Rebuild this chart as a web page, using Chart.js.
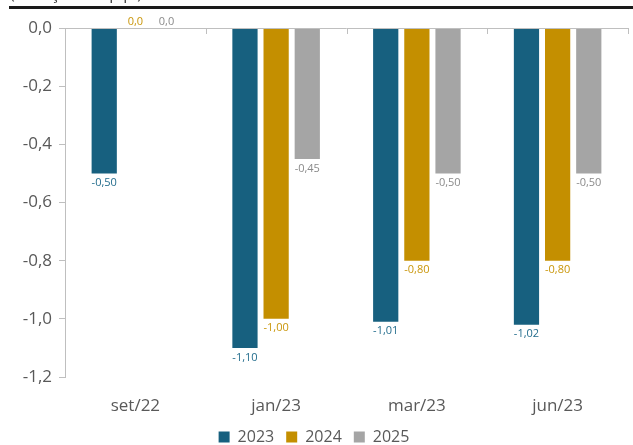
<!DOCTYPE html>
<html>
<head>
<meta charset="utf-8">
<script src="https://cdn.jsdelivr.net/npm/chart.js@4"></script>
<style>
	html, body { margin: 0; padding: 0; background: #fff; }
	#wrap { width: 633px; height: 445px; position: relative; }
</style>
</head>
<body>
<div id="wrap"><canvas id="myChart"></canvas></div>
<script>
const categories = ['set/22', 'jan/23', 'mar/23', 'jun/23'];
const series2023 = [-0.50, -1.10, -1.01, -1.02];
const series2024 = [0.0, -1.00, -0.80, -0.80];
const series2025 = [0.0, -0.45, -0.50, -0.50];
const yTicks = [0, -0.2, -0.4, -0.6, -0.8, -1.0, -1.2];

const fontFamily = '"Open Sans", Lato, sans-serif';
const colors = ['#17607f', '#c48f00', '#a5a5a5'];
const labelColors = ['#236d8d', '#c9960a', '#8a8a8a'];

const fmt = (v, d) => {
	if (Math.abs(v) < 1e-9) v = 0;
	return v.toFixed(d).replace('.', ',');
};

// value labels, zero line, header rule
const decor = {
	id: 'decor',
	afterDatasetsDraw(chart) {
		const c = chart.ctx;
		const area = chart.chartArea;
		const y0 = chart.scales.y.getPixelForValue(0);
		c.save();
		c.strokeStyle = '#bfbfbf';
		c.lineWidth = 1;
		c.beginPath();
		c.moveTo(area.left, y0 + 0.5);
		c.lineTo(area.right, y0 + 0.5);
		const n = categories.length;
		for (let i = 1; i <= n; i++) {
			const x = Math.round(area.left + (area.right - area.left) * i / n) + 0.5;
			c.moveTo(x, y0);
			c.lineTo(x, y0 + 6);
		}
		c.stroke();

		c.font = '11px ' + fontFamily;
		c.textAlign = 'center';
		chart.data.datasets.forEach((ds, di) => {
			const meta = chart.getDatasetMeta(di);
			meta.data.forEach((bar, i) => {
				const v = ds.data[i];
				c.fillStyle = labelColors[di];
				if (Math.abs(v) < 1e-9) {
					c.textBaseline = 'bottom';
					c.fillText(fmt(v, 1), bar.x, y0 - 1);
				} else {
					c.textBaseline = 'top';
					c.fillText(fmt(v, 2), bar.x, bar.y + 4);
				}
			});
		});

		// header rule and cut-off subtitle
		c.fillStyle = '#1a1a1a';
		c.fillRect(9, 6, 624, 3);
		c.fillStyle = '#404040';
		c.font = '16px ' + fontFamily;
		c.textAlign = 'left';
		c.textBaseline = 'alphabetic';
		c.fillText('(variação em p.p.)', 10, -1);
		c.restore();
	}
};

const ctx = document.getElementById('myChart');
const datasets = [
	{ label: '2023', data: series2023, backgroundColor: colors[0] },
	{ label: '2024', data: series2024, backgroundColor: colors[1] },
	{ label: '2025', data: series2025, backgroundColor: colors[2] },
];

new Chart(ctx, {
	type: 'bar',
	data: { labels: categories, datasets },
	options: {
		responsive: true,
		maintainAspectRatio: false,
		animation: false,
		categoryPercentage: 0.664,
		barPercentage: 0.81,
		layout: { padding: { top: 28, right: 5, left: 0, bottom: -10 } },
		plugins: {
			legend: {
				position: 'bottom',
				labels: {
					boxWidth: 11,
					boxHeight: 11,
					padding: 12,
					color: '#595959',
					font: { family: fontFamily, size: 16 }
				}
			},
			tooltip: { enabled: false }
		},
		scales: {
			x: {
				grid: { display: false },
				border: { display: false },
				ticks: {
					color: '#595959',
					padding: 11,
					font: { family: fontFamily, size: 17 }
				},
				afterFit: (axis) => { axis.height = 40; }
			},
			y: {
				min: -1.2,
				max: 0,
				afterBuildTicks: (axis) => { axis.ticks = yTicks.map(v => ({ value: v })); },
				grid: { drawOnChartArea: false, tickLength: 6, color: '#bfbfbf' },
				border: { color: '#bfbfbf' },
				ticks: {
					color: '#595959',
					padding: 7,
					font: { family: fontFamily, size: 17 },
					callback: (v) => fmt(v, 1)
				},
				afterFit: (axis) => { axis.width = 65; }
			}
		}
	},
	plugins: [decor]
});
</script>
</body>
</html>
